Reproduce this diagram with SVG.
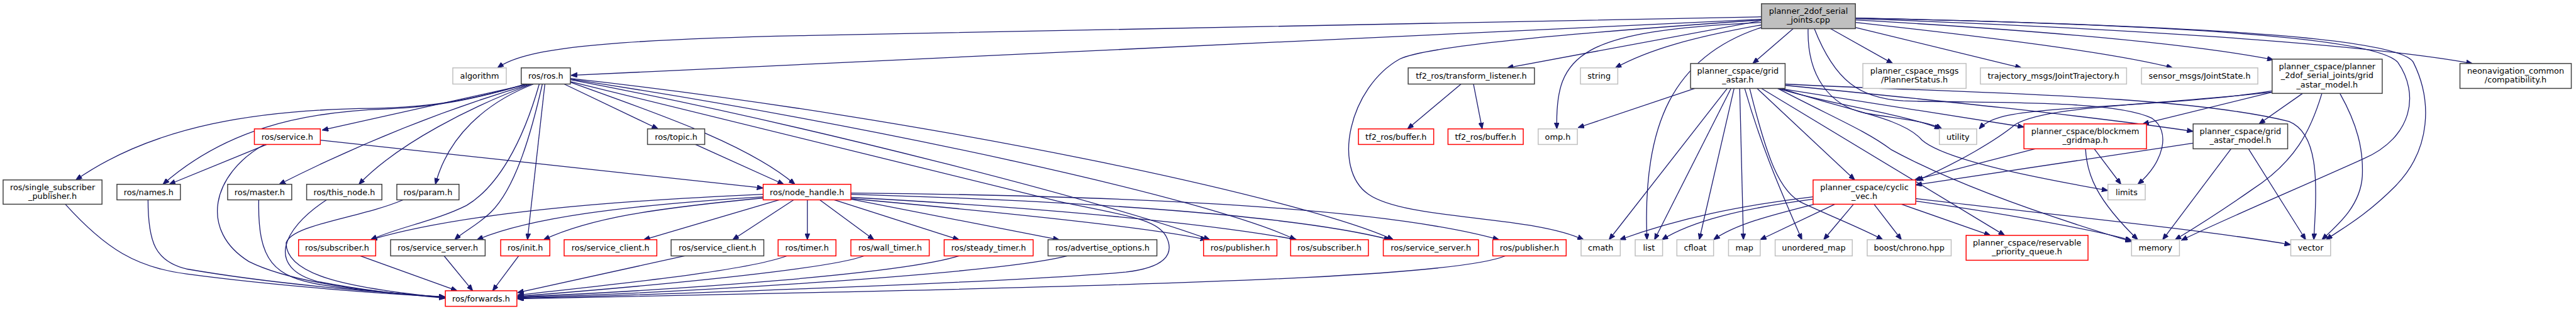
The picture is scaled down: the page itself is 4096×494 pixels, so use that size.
<svg xmlns="http://www.w3.org/2000/svg" width="4096" height="494" viewBox="0 0 4096 494">
<defs>
<marker id="ah" viewBox="0 0 10 8" refX="10" refY="4" markerWidth="10" markerHeight="8" markerUnits="userSpaceOnUse" orient="auto"><path d="M0,0 L10,4 L0,8 z" fill="#191970" stroke="#191970" stroke-width="1"/></marker>
<style>
.e{fill:none;stroke:#191970;stroke-width:1.3;marker-end:url(#ah)}
.nb{fill:#fff;stroke:#404040;stroke-width:1.5}
.ng{fill:#fff;stroke:#bfbfbf;stroke-width:1.5}
.nr{fill:#fff;stroke:#ff0000;stroke-width:1.5}
.rt{fill:#bfbfbf;stroke:#404040;stroke-width:1.5}
text{font-family:"DejaVu Sans","Liberation Sans",sans-serif;font-size:13px;fill:#000;text-anchor:middle}
</style>
</defs>
<rect width="4096" height="494" fill="#fff"/>
<g transform="scale(0.989)">
<g id="connectors">
<path class="e" d="M2832,27 L1300,57 C950,64 840,80 800,109"/>
<path class="e" d="M2832,31 L918,121"/>
<path class="e" d="M2832,33 L2423,109"/>
<path class="e" d="M2832,36 C2540,50 2500,85 2503,207"/>
<path class="e" d="M2832,40 C2720,60 2650,80 2597,109"/>
<path class="e" d="M2832,44 C2690,90 2640,200 2648,385"/>
<path class="e" d="M2832,32 C2500,55 2290,75 2250,95 C2170,140 2140,270 2200,312 C2260,354 2460,345 2546,385"/>
<path class="e" d="M2883,46 L2818,102"/>
<path class="e" d="M2943,46 L3043,102"/>
<path class="e" d="M2983,44 L3250,109"/>
<path class="e" d="M2983,36 C3200,60 3400,85 3493,109"/>
<path class="e" d="M2983,32 C3300,50 3520,70 3655,96"/>
<path class="e" d="M2983,30 C3400,45 3800,70 3975,102"/>
<path class="e" d="M2983,29 C3500,40 3820,60 3855,100 C3890,150 3880,220 3800,255 C3700,300 3570,355 3507,386"/>
<path class="e" d="M2983,29 C3600,42 3860,65 3880,100 C3910,160 3910,240 3850,300 C3800,350 3760,370 3740,385"/>
<path class="e" d="M2907,46 C2905,120 2940,170 3000,182 C3060,192 3100,195 3122,207"/>
<path class="e" d="M2917,46 C2950,130 2990,158 3060,162 C3200,166 3400,160 3460,190 C3490,210 3480,260 3437,296"/>
<path class="e" d="M2725,142 L2537,205"/>
<path class="e" d="M2777,142 L2587,385"/>
<path class="e" d="M2783,142 L2660,385"/>
<path class="e" d="M2788,142 L2732,385"/>
<path class="e" d="M2797,142 L2803,385"/>
<path class="e" d="M2805,142 C2830,230 2860,300 2897,385"/>
<path class="e" d="M2813,142 C2840,250 2860,310 2900,327 C2950,350 3000,370 3027,385"/>
<path class="e" d="M2825,142 L2982,289"/>
<path class="e" d="M2832,142 L3223,378"/>
<path class="e" d="M2860,142 L3254,204"/>
<path class="e" d="M2858,142 C2950,170 3050,180 3120,207"/>
<path class="e" d="M2863,142 C2980,180 3060,190 3090,225 C3130,260 3300,290 3389,306"/>
<path class="e" d="M2858,142 C2950,190 3000,210 3040,240 C3150,300 3300,350 3427,388"/>
<path class="e" d="M2870,137 C3100,160 3350,185 3526,211"/>
<path class="e" d="M2870,135 C3100,148 3500,150 3680,195 C3730,215 3725,300 3720,385"/>
<path class="e" d="M2915,316 C2800,330 2700,350 2604,385"/>
<path class="e" d="M2915,320 C2800,335 2720,355 2672,385"/>
<path class="e" d="M2917,328 C2850,345 2790,360 2755,385"/>
<path class="e" d="M2950,328 L2830,385"/>
<path class="e" d="M2980,328 L2932,385"/>
<path class="e" d="M3013,328 L3057,385"/>
<path class="e" d="M3057,328 L3200,378"/>
<path class="e" d="M3080,323 C3200,340 3350,365 3427,386"/>
<path class="e" d="M3080,319 C3300,345 3550,370 3683,393"/>
<path class="e" d="M3272,239 L3078,289"/>
<path class="e" d="M3367,239 L3410,296"/>
<path class="e" d="M3353,239 C3355,280 3370,320 3437,385"/>
<path class="e" d="M3526,230 L3080,297"/>
<path class="e" d="M3587,239 L3477,385"/>
<path class="e" d="M3615,239 L3707,385"/>
<path class="e" d="M3653,148 L3445,199"/>
<path class="e" d="M3702,150 L3632,199"/>
<path class="e" d="M3733,150 C3715,210 3690,260 3620,305 C3570,340 3530,365 3497,385"/>
<path class="e" d="M3762,150 C3790,200 3800,240 3798,283 C3795,330 3760,360 3733,385"/>
<path class="e" d="M3653,146 C3500,170 3300,170 3230,185 C3205,190 3190,198 3182,207"/>
<path class="e" d="M3653,148 C3450,170 3290,170 3240,200 C3210,225 3150,260 3082,290"/>
<path class="e" d="M2349,135 L2263,207"/>
<path class="e" d="M2369,135 L2383,207"/>
<path class="e" d="M907,135 L1058,207"/>
<path class="e" d="M917,132 C1050,180 1200,230 1278,296"/>
<path class="e" d="M876,135 L848,385"/>
<path class="e" d="M872,135 C855,210 830,300 790,340 C770,360 745,372 731,385"/>
<path class="e" d="M867,135 C840,230 800,300 750,330 C700,355 640,365 596,385"/>
<path class="e" d="M858,135 C780,165 720,220 700,296"/>
<path class="e" d="M855,135 C760,170 640,230 577,296"/>
<path class="e" d="M853,135 C700,180 560,240 449,296"/>
<path class="e" d="M850,135 L518,209"/>
<path class="e" d="M850,134 C760,160 700,172 620,175 C480,180 360,210 262,296"/>
<path class="e" d="M848,134 C760,160 700,172 600,174 C420,176 250,200 122,289"/>
<path class="e" d="M917,128 C1300,200 1800,330 1945,385"/>
<path class="e" d="M917,127 C1400,200 1950,320 2083,385"/>
<path class="e" d="M917,126 C1500,190 2100,320 2240,385"/>
<path class="e" d="M917,131 L1700,323 C1800,345 1860,350 1875,380 C1890,410 1870,430 1810,437 C1600,455 1000,475 832,479"/>
<path class="e" d="M1227,312 C1000,322 750,340 596,385"/>
<path class="e" d="M1227,316 C1000,330 850,350 767,385"/>
<path class="e" d="M1227,318 C1050,335 950,350 874,385"/>
<path class="e" d="M1253,321 L1035,385"/>
<path class="e" d="M1276,321 L1178,385"/>
<path class="e" d="M1298,321 L1298,385"/>
<path class="e" d="M1318,321 L1405,385"/>
<path class="e" d="M1341,321 L1542,385"/>
<path class="e" d="M1368,320 L1703,385"/>
<path class="e" d="M1368,319 C1600,340 1850,365 1940,385"/>
<path class="e" d="M1368,317 C1700,335 1950,360 2085,385"/>
<path class="e" d="M1368,312 C1800,325 2100,350 2235,385"/>
<path class="e" d="M1368,310 C1900,315 2250,340 2410,385"/>
<path class="e" d="M515,225 L1227,302"/>
<path class="e" d="M429,232 L272,296"/>
<path class="e" d="M425,232 C340,280 320,370 400,420 C480,460 640,472 716,478"/>
<path class="e" d="M1118,232 L1260,296"/>
<path class="e" d="M105,328 C170,400 220,430 300,440 C450,460 620,472 716,477"/>
<path class="e" d="M238,321 C238,390 250,420 300,432 C450,458 620,470 716,477"/>
<path class="e" d="M416,321 C414,420 440,445 520,458 C600,470 680,474 716,478"/>
<path class="e" d="M525,321 C450,370 430,430 510,452 C600,470 680,475 716,479"/>
<path class="e" d="M648,321 C580,350 470,360 460,390 C460,440 550,462 716,478"/>
<path class="e" d="M579,411 L735,467"/>
<path class="e" d="M714,411 L760,467"/>
<path class="e" d="M834,411 L792,467"/>
<path class="e" d="M1101,411 L832,470"/>
<path class="e" d="M1265,411 C1200,435 1000,455 832,474"/>
<path class="e" d="M1389,411 C1340,430 1100,455 832,476"/>
<path class="e" d="M1542,411 C1450,440 1100,465 832,477"/>
<path class="e" d="M1716,411 C1600,440 1100,470 832,478"/>
<path class="e" d="M2420,411 C2350,440 2000,455 1300,470 L832,480"/>
</g>
<g id="n_root"><rect class="rt" x="2832" y="6" width="151" height="40"/><text x="2907.5" y="22">planner_2dof_serial</text><text x="2907.5" y="36.5">_joints.cpp</text></g>
<g id="n_algorithm"><rect class="ng" x="728" y="109" width="86" height="26"/><text x="771" y="126">algorithm</text></g>
<g id="n_rosh"><rect class="nb" x="838" y="109" width="79" height="26"/><text x="877.5" y="126">ros/ros.h</text></g>
<g id="n_tflistener"><rect class="nb" x="2264" y="109" width="203" height="26"/><text x="2365.5" y="126">tf2_ros/transform_listener.h</text></g>
<g id="n_string"><rect class="ng" x="2541" y="109" width="60" height="26"/><text x="2571" y="126">string</text></g>
<g id="n_gridastar"><rect class="nb" x="2718" y="102" width="152" height="40"/><text x="2794" y="118">planner_cspace/grid</text><text x="2794" y="132.5">_astar.h</text></g>
<g id="n_plannerstatus"><rect class="ng" x="2995" y="102" width="166" height="40"/><text x="3078" y="118">planner_cspace_msgs</text><text x="3078" y="132.5">/PlannerStatus.h</text></g>
<g id="n_trajectory"><rect class="ng" x="3184" y="109" width="235" height="26"/><text x="3301.5" y="126">trajectory_msgs/JointTrajectory.h</text></g>
<g id="n_sensor"><rect class="ng" x="3443" y="109" width="187" height="26"/><text x="3536.5" y="126">sensor_msgs/JointState.h</text></g>
<g id="n_model3"><rect class="nb" x="3653" y="95" width="177" height="55"/><text x="3741.5" y="111">planner_cspace/planner</text><text x="3741.5" y="125.5">_2dof_serial_joints/grid</text><text x="3741.5" y="140.5">_astar_model.h</text></g>
<g id="n_neonav"><rect class="nb" x="3955" y="102" width="179" height="40"/><text x="4044.5" y="118">neonavigation_common</text><text x="4044.5" y="132.5">/compatibility.h</text></g>
<g id="n_service"><rect class="nr" x="409" y="207" width="106" height="25"/><text x="462" y="224">ros/service.h</text></g>
<g id="n_topic"><rect class="nb" x="1041" y="207" width="92" height="25"/><text x="1087" y="224">ros/topic.h</text></g>
<g id="n_buffer1"><rect class="nr" x="2184" y="207" width="121" height="25"/><text x="2244.5" y="224">tf2_ros/buffer.h</text></g>
<g id="n_buffer2"><rect class="nr" x="2328" y="207" width="121" height="25"/><text x="2388.5" y="224">tf2_ros/buffer.h</text></g>
<g id="n_omp"><rect class="ng" x="2473" y="207" width="63" height="25"/><text x="2504.5" y="224">omp.h</text></g>
<g id="n_utility"><rect class="ng" x="3118" y="207" width="60" height="25"/><text x="3148" y="224">utility</text></g>
<g id="n_blockmem"><rect class="nr" x="3254" y="199" width="197" height="40"/><text x="3352.5" y="215">planner_cspace/blockmem</text><text x="3352.5" y="229.5">_gridmap.h</text></g>
<g id="n_gamodel"><rect class="nb" x="3526" y="199" width="152" height="40"/><text x="3602" y="215">planner_cspace/grid</text><text x="3602" y="229.5">_astar_model.h</text></g>
<g id="n_singlesub"><rect class="nb" x="5" y="289" width="159" height="39"/><text x="84.5" y="305">ros/single_subscriber</text><text x="84.5" y="319.5">_publisher.h</text></g>
<g id="n_names"><rect class="nb" x="188" y="296" width="102" height="25"/><text x="239" y="313">ros/names.h</text></g>
<g id="n_master"><rect class="nb" x="366" y="296" width="103" height="25"/><text x="417.5" y="313">ros/master.h</text></g>
<g id="n_thisnode"><rect class="nb" x="493" y="296" width="121" height="25"/><text x="553.5" y="313">ros/this_node.h</text></g>
<g id="n_param"><rect class="nb" x="638" y="296" width="100" height="25"/><text x="688" y="313">ros/param.h</text></g>
<g id="n_nodehandle"><rect class="nr" x="1227" y="296" width="141" height="25"/><text x="1297.5" y="313">ros/node_handle.h</text></g>
<g id="n_cyclic"><rect class="nr" x="2915" y="289" width="165" height="39"/><text x="2997.5" y="305">planner_cspace/cyclic</text><text x="2997.5" y="319.5">_vec.h</text></g>
<g id="n_limits"><rect class="ng" x="3389" y="296" width="60" height="25"/><text x="3419" y="313">limits</text></g>
<g id="n_sub1"><rect class="nr" x="480" y="385" width="124" height="26"/><text x="542" y="402">ros/subscriber.h</text></g>
<g id="n_srv1"><rect class="nb" x="628" y="385" width="152" height="26"/><text x="704" y="402">ros/service_server.h</text></g>
<g id="n_init"><rect class="nr" x="805" y="385" width="79" height="26"/><text x="844.5" y="402">ros/init.h</text></g>
<g id="n_cli1"><rect class="nr" x="907" y="385" width="149" height="26"/><text x="981.5" y="402">ros/service_client.h</text></g>
<g id="n_cli2"><rect class="nb" x="1079" y="385" width="149" height="26"/><text x="1153.5" y="402">ros/service_client.h</text></g>
<g id="n_timer"><rect class="nr" x="1251" y="385" width="93" height="26"/><text x="1297.5" y="402">ros/timer.h</text></g>
<g id="n_walltimer"><rect class="nr" x="1368" y="385" width="126" height="26"/><text x="1431" y="402">ros/wall_timer.h</text></g>
<g id="n_steady"><rect class="nr" x="1518" y="385" width="143" height="26"/><text x="1589.5" y="402">ros/steady_timer.h</text></g>
<g id="n_advopt"><rect class="nb" x="1685" y="385" width="175" height="26"/><text x="1772.5" y="402">ros/advertise_options.h</text></g>
<g id="n_pub1"><rect class="nr" x="1935" y="385" width="118" height="26"/><text x="1994" y="402">ros/publisher.h</text></g>
<g id="n_sub2"><rect class="nr" x="2075" y="385" width="125" height="26"/><text x="2137.5" y="402">ros/subscriber.h</text></g>
<g id="n_srv2"><rect class="nr" x="2224" y="385" width="153" height="26"/><text x="2300.5" y="402">ros/service_server.h</text></g>
<g id="n_pub2"><rect class="nr" x="2400" y="385" width="118" height="26"/><text x="2459" y="402">ros/publisher.h</text></g>
<g id="n_cmath"><rect class="ng" x="2542" y="385" width="63" height="26"/><text x="2573.5" y="402">cmath</text></g>
<g id="n_list"><rect class="ng" x="2629" y="385" width="44" height="26"/><text x="2651" y="402">list</text></g>
<g id="n_cfloat"><rect class="ng" x="2696" y="385" width="59" height="26"/><text x="2725.5" y="402">cfloat</text></g>
<g id="n_map"><rect class="ng" x="2779" y="385" width="51" height="26"/><text x="2804.5" y="402">map</text></g>
<g id="n_umap"><rect class="ng" x="2854" y="385" width="124" height="26"/><text x="2916" y="402">unordered_map</text></g>
<g id="n_boost"><rect class="ng" x="3002" y="385" width="135" height="26"/><text x="3069.5" y="402">boost/chrono.hpp</text></g>
<g id="n_reservable"><rect class="nr" x="3161" y="378" width="196" height="40"/><text x="3259" y="394">planner_cspace/reservable</text><text x="3259" y="408.5">_priority_queue.h</text></g>
<g id="n_memory"><rect class="ng" x="3427" y="385" width="77" height="26"/><text x="3465.5" y="402">memory</text></g>
<g id="n_vector"><rect class="ng" x="3683" y="385" width="64" height="26"/><text x="3715" y="402">vector</text></g>
<g id="n_forwards"><rect class="nr" x="716" y="467" width="115" height="25"/><text x="773.5" y="484">ros/forwards.h</text></g>
</g>
</svg>
